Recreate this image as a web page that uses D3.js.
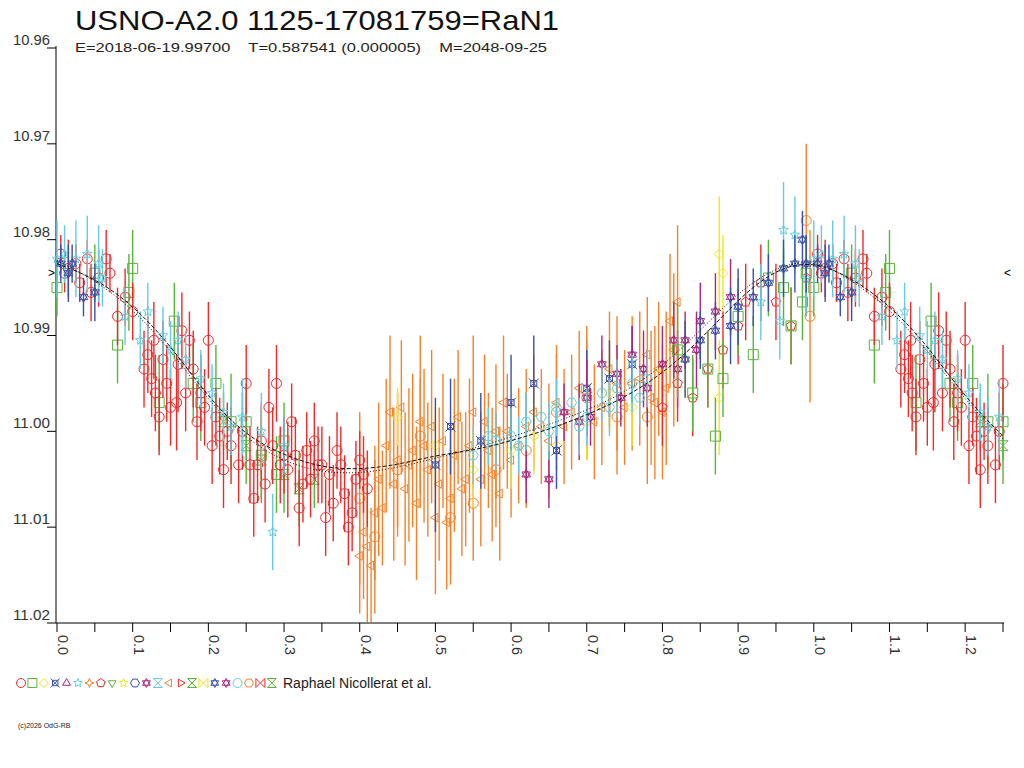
<!DOCTYPE html>
<html><head><meta charset="utf-8">
<script src="https://cdn.jsdelivr.net/npm/d3@7"></script>
<style>body{margin:0;background:#fff}text{font-family:"Liberation Sans",Arial,sans-serif}</style>
</head><body><svg id="c" width="1024" height="768"></svg>
<script>
'use strict';

// data: [phase, magnitude, error]
var redCircle = [[0.005,10.9815,.002],[0.015,10.983,.003],[0.03,10.9845,.002],[0.04,10.982,.002],[0.055,10.984,.003],[0.07,10.9835,.002],[0.08,10.988,.003],[0.1,10.9875,.003],[0.12,10.992,.004],[0.125,10.9945,.004],[0.13,10.996,.004],[0.14,10.9925,.004],[0.15,10.9975,.004],[0.16,10.993,.005],[0.17,10.996,.004],[0.175,10.9905,.003],[0.185,10.999,.004],[0.19,10.996,.004],[0.2,10.9905,.004],[0.205,11.0015,.004],[0.21,10.9985,.003],[0.22,11.004,.004],[0.225,11.0,.003],[0.24,11.0035,.004],[0.25,10.995,.004],[0.255,11.0035,.004],[0.26,11.007,.004],[0.27,11.001,.004],[0.28,10.9975,.004],[0.29,10.995,.004],[0.3,11.0025,.004],[0.305,11.004,.005],[0.31,10.999,.004],[0.32,11.008,.004],[0.33,11.002,.004],[0.335,11.005,.004],[0.34,11.001,.004],[0.35,11.0035,.004],[0.355,11.009,.004],[0.36,11.0045,.004],[0.37,11.002,.004],[0.38,11.0065,.004],[0.385,11.01,.004],[0.39,11.0085,.004],[0.395,11.005,.004],[0.4,11.003,.003],[0.41,11.006,.004]];
var redCircle2 = [[0.01,10.9835,.002],[0.025,10.9825,.002],[0.045,10.9855,.003],[0.065,10.982,.003],[0.09,10.986,.003],[0.115,10.9935,.004],[0.128,10.9905,.004],[0.135,10.9985,.004],[0.145,10.995,.004],[0.158,10.997,.005],[0.165,10.9895,.004],[0.18,10.9935,.004],[0.195,10.9975,.004],[0.215,11.0005,.004],[0.23,11.0015,.004],[0.245,11.0,.004],[0.265,11.0035,.004],[0.275,11.0055,.004],[0.285,11.0015,.004],[0.295,11.0035,.004],[0.315,11.0025,.004],[0.325,11.0055,.004],[0.345,11.0035,.004],[0.365,11.0075,.004],[0.375,11.0035,.004],[0.405,11.0045,.004]];
var greenSquare = [[0.0,10.985,.003],[0.05,10.9835,.003],[0.08,10.991,.004],[0.095,10.9855,.004],[0.1,10.983,.004],[0.135,10.997,.005],[0.155,10.9885,.004],[0.18,10.995,.004],[0.19,10.997,.004],[0.21,10.995,.004],[0.23,10.999,.005],[0.25,10.999,.004],[0.27,11.0025,.005],[0.29,11.0045,.004],[0.3,11.001,.004],[0.82,10.9915,.005],[0.84,10.996,.004],[0.86,10.9935,.004],[0.87,11.0005,.004],[0.88,10.9945,.004],[0.9,10.988,.004],[0.92,10.992,.004],[0.94,10.984,.004],[0.96,10.985,.004],[0.97,10.989,.004],[0.985,10.9865,.004],[0.99,10.9835,.004]];
var cyanStar = [[0.0,10.982,.004],[0.01,10.9815,.003],[0.025,10.982,.004],[0.04,10.9815,.004],[0.055,10.9825,.004],[0.06,10.984,.003],[0.09,10.988,.003],[0.11,10.9905,.003],[0.12,10.9875,.003],[0.14,10.99,.003],[0.15,10.9915,.003],[0.16,10.9905,.003],[0.17,10.9925,.003],[0.19,10.9945,.003],[0.205,10.996,.003],[0.22,10.998,.003],[0.23,10.9995,.003],[0.245,10.9985,.004],[0.27,11.0,.004],[0.285,11.0105,.004],[0.3,11.0015,.003],[0.93,10.9865,.004],[0.955,10.9885,.004],[0.96,10.979,.005],[0.975,10.9795,.004],[0.99,10.984,.004]];
var blueStar = [[0.005,10.9825,.002],[0.015,10.9835,.003],[0.02,10.9825,.002],[0.035,10.986,.002],[0.05,10.9855,.003],[0.83,10.9925,.004],[0.85,10.9905,.003],[0.87,10.9895,.003],[0.89,10.989,.004],[0.9,10.987,.004],[0.92,10.986,.003],[0.94,10.9845,.003],[0.96,10.983,.003],[0.975,10.9825,.003],[0.985,10.98,.003],[0.99,10.9825,.003]];
var orangeTri = [[0.4,11.013,.006],[0.41,11.012,.008],[0.42,11.0085,.007],[0.43,11.008,.006],[0.44,10.998,.008],[0.45,11.003,.007],[0.46,11.006,.008],[0.47,11.002,.008],[0.48,10.999,.009],[0.49,11.004,.007],[0.5,11.009,.008],[0.51,11.001,.007],[0.52,11.007,.008],[0.53,10.9985,.007],[0.54,11.005,.007],[0.55,10.998,.008],[0.56,11.005,.007],[0.57,11.002,.006],[0.58,11.0,.007],[0.59,10.997,.007],[0.6,11.003,.006],[0.62,10.9995,.006],[0.63,10.998,.006],[0.65,11.001,.006],[0.66,10.997,.006],[0.68,10.998,.006],[0.7,10.996,.007],[0.72,10.9975,.006],[0.74,10.995,.007],[0.76,10.995,.007],[0.78,10.992,.006],[0.79,10.997,.008],[0.8,10.998,.007],[0.81,10.9885,.007],[0.82,10.9865,.008]];
var orangeTri2 = [[0.405,11.0105,.007],[0.415,11.014,.006],[0.425,11.005,.008],[0.435,11.0015,.007],[0.445,11.0055,.008],[0.455,10.9975,.007],[0.465,11.0035,.008],[0.475,11.0075,.008],[0.485,11.0015,.008],[0.495,10.9995,.008],[0.505,11.0055,.008],[0.515,11.0095,.007],[0.525,11.0025,.008],[0.535,11.006,.007],[0.545,11.0015,.007],[0.565,10.999,.007],[0.575,11.0045,.007],[0.585,11.0065,.007],[0.595,11.0,.006],[0.61,11.0015,.006],[0.64,10.9995,.006],[0.67,10.9995,.006],[0.69,10.9955,.006],[0.71,10.999,.006],[0.73,10.9935,.006],[0.75,10.9975,.006],[0.77,10.9945,.007],[0.785,10.9965,.007],[0.795,10.9935,.007],[0.805,10.9955,.008],[0.815,10.9915,.008]];
var orangeCircle = [[0.4,11.007,.009],[0.42,11.011,.008],[0.45,11.004,.007],[0.48,11.0005,.006],[0.52,11.009,.007],[0.55,11.0075,.006],[0.58,11.004,.006],[0.62,11.002,.006],[0.66,10.998,.006],[0.7,10.9965,.006],[0.74,10.9985,.006],[0.78,10.9985,.007],[0.99,10.978,.008],[0.995,10.988,.009]];
var purpleStar = [[0.62,11.0045,.003],[0.65,11.005,.003],[0.67,10.998,.003],[0.69,10.999,.004],[0.7,10.9965,.004],[0.72,10.993,.003],[0.74,10.994,.003],[0.76,10.992,.003],[0.78,10.9955,.004],[0.8,10.993,.004],[0.82,10.9935,.004],[0.83,10.9905,.003],[0.85,10.9885,.004],[0.87,10.9875,.004],[0.89,10.986,.004],[0.705,10.9985,.003],[0.745,10.9965,.003],[0.775,10.9935,.004],[0.815,10.9905,.004],[0.845,10.9915,.004]];
var yellowDiamond = [[0.45,10.9985,.003],[0.5,11.0015,.004],[0.55,11.004,.004],[0.6,11.002,.004],[0.63,11.0005,.004],[0.66,11.0015,.004],[0.7,10.999,.004],[0.73,10.996,.004],[0.76,10.9975,.004],[0.8,10.9935,.004],[0.83,10.9925,.004],[0.875,10.9815,.006],[0.88,10.9835,.004],[0.875,10.9965,.006]];
var blueCross = [[0.5,11.0035,.007],[0.52,10.9995,.005],[0.56,11.001,.005],[0.6,10.997,.005],[0.63,10.995,.005],[0.66,11.002,.004],[0.7,10.9955,.004],[0.73,10.9945,.004],[0.76,10.993,.004]];
var cyanCircle = [[0.55,11.0025,.003],[0.58,11.001,.003],[0.6,11.0005,.003],[0.62,10.999,.003],[0.64,10.9985,.003],[0.66,10.9975,.003],[0.68,10.997,.003],[0.7,10.9985,.003],[0.72,10.996,.003],[0.74,10.9955,.003],[0.76,10.995,.003],[0.78,10.9945,.003],[0.57,11.0005,.003],[0.61,11.0015,.003],[0.65,11.0,.003],[0.69,10.9995,.003],[0.73,10.9975,.003],[0.77,10.9965,.003]];
var redPentagon = [[0.8,10.9975,.004],[0.82,10.995,.004],[0.84,10.9965,.004],[0.86,10.9935,.004],[0.88,10.9915,.004],[0.9,10.989,.004],[0.91,10.9865,.004],[0.93,10.9845,.004],[0.95,10.9865,.004],[0.97,10.989,.004],[0.99,10.984,.004]];
var greenGlass = [[0.22,10.999,.003],[0.25,11.0015,.004],[0.27,11.003,.004],[0.3,11.0045,.004],[0.32,11.006,.004],[0.34,11.005,.003]];

// fitted light curve (two fits)
var fitPhase = [0,0.05,0.1,0.15,0.2,0.25,0.3,0.35,0.4,0.45,0.5,0.55,0.6,0.65,0.7,0.75,0.8,0.85,0.9,0.95,1.0,1.05,1.1,1.15,1.2,1.25];
var fitMagA = [10.9825,10.984,10.9868,10.991,10.9965,11.0005,11.0025,11.0038,11.004,11.0035,11.0025,11.002,11.001,10.9998,10.9983,10.9965,10.994,10.9905,10.9862,10.983,10.9822,10.984,10.9868,10.991,10.9965,11.0005];
var fitMagB = [10.9822,10.9842,10.9872,10.9915,10.9968,11.0008,11.0032,11.0043,11.0044,11.0038,11.0028,11.0018,11.0006,10.9993,10.9978,10.996,10.9932,10.9895,10.9855,10.9828,10.982,10.9842,10.9872,10.9915,10.9968,11.0008];

var yTicks = [10.96,10.97,10.98,10.99,11.00,11.01,11.02];
var xTicks = [0,0.1,0.2,0.3,0.4,0.5,0.6,0.7,0.8,0.9,1.0,1.1,1.2];
var meanMag = 10.9835;

var series = [
  {data: greenGlass, sym: 'hourglass', color: '#5ab43c'},
  {data: orangeTri, sym: 'left', color: '#f5822a'},
  {data: orangeTri2, sym: 'left', color: '#f5822a'},
  {data: orangeCircle, sym: 'circle', color: '#f5822a'},
  {data: yellowDiamond, sym: 'diamond', color: '#f0e61e'},
  {data: blueCross, sym: 'xsquare', color: '#3a50a8'},
  {data: purpleStar, sym: 'star6', color: '#a8287f'},
  {data: cyanCircle, sym: 'hexagon', color: '#66ccdd'},
  {data: redPentagon, sym: 'pentagon', color: '#ee2a2a'},
  {data: greenSquare, sym: 'square', color: '#5ab43c'},
  {data: redCircle, sym: 'circle', color: '#ee2a2a'},
  {data: redCircle2, sym: 'circle', color: '#ee2a2a'},
  {data: cyanStar, sym: 'star5', color: '#66ccdd'},
  {data: blueStar, sym: 'star6', color: '#3a50a8'}
];

var legend = [['circle','#ee2a2a'],['square','#5ab43c'],['diamond','#f0e61e'],['xsquare','#3a50a8'],['triangle','#a8287f'],['star5','#66ccdd'],['star4','#f5822a'],['pentagon','#ee2a2a'],['down','#5ab43c'],['star5','#f0e61e'],['hexagon','#3a50a8'],['star6','#a8287f'],['hourglass','#66ccdd'],['left','#f5822a'],['right','#ee2a2a'],['hourglass','#5ab43c'],['bowtie','#f0e61e'],['star6','#3a50a8'],['star6','#a8287f'],['circle','#66ccdd'],['hexagon','#f5822a'],['bowtie','#ee2a2a'],['hourglass','#5ab43c']];

function poly(n, r, rot, inner) {
  var pts = [], k = inner ? n * 2 : n;
  for (var i = 0; i < k; i++) {
    var a = rot + i * Math.PI * 2 / k, rr = (inner && i % 2) ? inner : r;
    pts.push([rr * Math.sin(a), -rr * Math.cos(a)]);
  }
  return 'M' + pts.map(function(p) { return p[0].toFixed(2) + ',' + p[1].toFixed(2); }).join('L') + 'Z';
}
function symbol(s, r) {
  switch (s) {
    case 'circle': return 'M' + r + ',0A' + r + ',' + r + ' 0 1,1 ' + (-r) + ',0A' + r + ',' + r + ' 0 1,1 ' + r + ',0Z';
    case 'square': return 'M' + (-r) + ',' + (-r) + 'H' + r + 'V' + r + 'H' + (-r) + 'Z';
    case 'xsquare': return 'M' + (-r*0.6) + ',' + (-r*0.6) + 'H' + r*0.6 + 'V' + r*0.6 + 'H' + (-r*0.6) + 'Z' + 'M' + (-r) + ',' + (-r) + 'L' + r + ',' + r + 'M' + r + ',' + (-r) + 'L' + (-r) + ',' + r;
    case 'diamond': return poly(4, r, 0);
    case 'triangle': return poly(3, r, 0);
    case 'down': return poly(3, r, Math.PI);
    case 'left': return poly(3, r, -Math.PI / 2);
    case 'right': return poly(3, r, Math.PI / 2);
    case 'pentagon': return poly(5, r, 0);
    case 'hexagon': return poly(6, r, Math.PI / 6);
    case 'star5': return poly(5, r, 0, r * 0.45);
    case 'star4': return poly(4, r, 0, r * 0.4);
    case 'star6': return poly(3, r, 0) + poly(3, r, Math.PI);
    case 'hourglass': return 'M' + (-r) + ',' + (-r) + 'H' + r + 'L' + (-r) + ',' + r + 'H' + r + 'Z';
    case 'bowtie': return 'M' + (-r) + ',' + (-r) + 'V' + r + 'L' + r + ',' + (-r) + 'V' + r + 'Z';
  }
}

var svg = d3.select('#c');
var x = d3.scaleLinear().domain([0, 1.25]).range([57, 1003]);
var y = d3.scaleLinear().domain([10.96, 11.02]).range([48, 623]);

// title
svg.append('text').attr('x', 75).attr('y', 30).attr('font-size', 28).attr('fill', '#111')
  .attr('textLength', 484).attr('lengthAdjust', 'spacingAndGlyphs').text('USNO-A2.0 1125-17081759=RaN1');
svg.append('text').attr('x', 75).attr('y', 52).attr('font-size', 13).attr('fill', '#222')
  .attr('xml:space', 'preserve').attr('textLength', 472).attr('lengthAdjust', 'spacingAndGlyphs')
  .text('E=2018-06-19.99700    T=0.587541 (0.000005)    M=2048-09-25');

// axes
svg.append('line').attr('x1', 56).attr('x2', 56).attr('y1', 46).attr('y2', 623).attr('stroke', '#000');
svg.append('line').attr('x1', 56).attr('x2', 1004).attr('y1', 623).attr('y2', 623).attr('stroke', '#000');
yTicks.forEach(function(t) {
  svg.append('line').attr('x1', 47).attr('x2', 56).attr('y1', y(t)).attr('y2', y(t)).attr('stroke', '#000');
  svg.append('text').attr('x', 50).attr('y', y(t) - 3).attr('text-anchor', 'end').attr('font-size', 14).attr('fill', '#333')
    .attr('textLength', 37).attr('lengthAdjust', 'spacingAndGlyphs').text(t.toFixed(2));
});
d3.range(0, 1.26, 0.05).forEach(function(t) {
  svg.append('line').attr('x1', x(t)).attr('x2', x(t)).attr('y1', 623).attr('y2', 632).attr('stroke', '#000');
});
xTicks.forEach(function(t) {
  svg.append('text').attr('transform', 'translate(' + (x(t) + 1) + ',635) rotate(90)')
    .attr('font-size', 14).attr('fill', '#333').attr('textLength', 20).attr('lengthAdjust', 'spacingAndGlyphs').text(t.toFixed(1));
});

// points, folded copy past phase 1
var plot = svg.append('g');
series.forEach(function(s) {
  var pts = s.data.slice();
  s.data.forEach(function(d) { if (d[0] <= 0.25) pts.push([d[0] + 1, d[1], d[2]]); });
  var g = plot.append('g');
  g.selectAll('line').data(pts).enter().append('line')
    .attr('x1', function(d) { return x(d[0]); }).attr('x2', function(d) { return x(d[0]); })
    .attr('y1', function(d) { return Math.min(y(d[1] - d[2]), 622); })
    .attr('y2', function(d) { return Math.min(y(d[1] + d[2]), 622); })
    .attr('stroke', s.color).attr('stroke-width', 1.4);
  g.selectAll('path').data(pts).enter().append('path')
    .attr('transform', function(d) { return 'translate(' + x(d[0]) + ',' + y(d[1]) + ')'; })
    .attr('d', symbol(s.sym, 5)).attr('fill', 'none').attr('stroke', s.color).attr('stroke-width', 1);
});

// fitted curves
var line = d3.line().x(function(d) { return x(d[0]); }).y(function(d) { return y(d[1]); }).curve(d3.curveBasis);
svg.append('path').attr('d', line(d3.zip(fitPhase, fitMagA))).attr('fill', 'none').attr('stroke', '#111').attr('stroke-width', 1).attr('stroke-dasharray', '4,2');
svg.append('path').attr('d', line(d3.zip(fitPhase, fitMagB))).attr('fill', 'none').attr('stroke', '#111').attr('stroke-width', 1).attr('stroke-dasharray', '1,2');

// mean markers
svg.append('text').attr('x', 48).attr('y', y(meanMag) + 4).attr('font-size', 12).text('>');
svg.append('text').attr('x', 1004).attr('y', y(meanMag) + 4).attr('font-size', 12).text('<');

// legend
legend.forEach(function(l, i) {
  svg.append('path').attr('transform', 'translate(' + (21 + i * 11.4) + ',683)')
    .attr('d', symbol(l[0], 4.5)).attr('fill', 'none').attr('stroke', l[1]).attr('stroke-width', 1);
});
svg.append('text').attr('x', 283).attr('y', 688).attr('font-size', 14).attr('fill', '#222').text('Raphael Nicollerat et al.');
svg.append('text').attr('x', 18).attr('y', 728).attr('font-size', 7).attr('fill', '#222').text('(c)2026 OdG-RB');
</script>
</body></html>
